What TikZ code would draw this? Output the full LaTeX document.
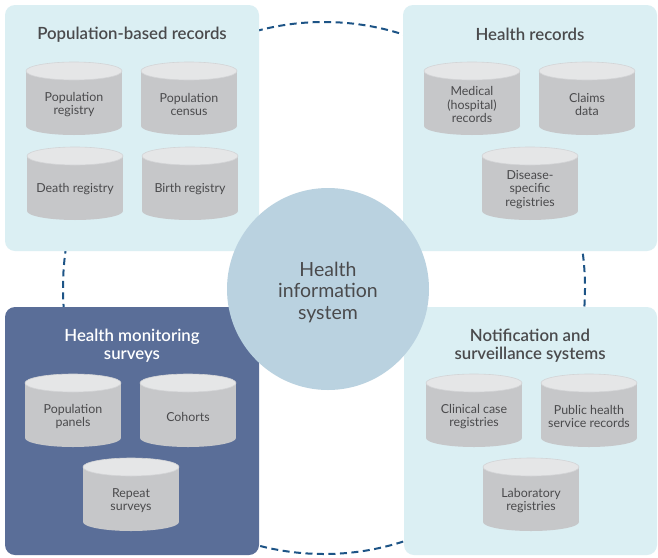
\documentclass[tikz,border=0pt]{standalone}
\usepackage{fontspec}
\setmainfont{Lato}
\newfontfamily\semib{Lato Semibold}
\definecolor{panelc}{HTML}{DBEFF3}
\definecolor{darkpanel}{HTML}{5A6E98}
\definecolor{hubc}{HTML}{BAD2E0}
\definecolor{cylb}{HTML}{C6C7C9}
\definecolor{cylt}{HTML}{E5E6E7}
\definecolor{cyledge}{HTML}{D3D4D6}
\definecolor{txt}{HTML}{4A4A4C}
\definecolor{dashc}{HTML}{1D5486}
\newcommand\dbcyl[4]{%
  \fill[cylbody] (#1,#2+9) rectangle (#1+96,#2+64);
  \fill[cylbody] (#1+48,#2+64) ellipse [x radius=48, y radius=9];
  \filldraw[cyltop] (#1+48,#2+9) ellipse [x radius=48, y radius=9];
  \node[cyltext] (#3) at (#1+48,#2+42.5) {#4};
}
\begin{document}
\begin{tikzpicture}[x=1pt,y=-1pt,
  panel/.style={fill=panelc, rounded corners=10pt, inner sep=0pt},
  dpanel/.style={fill=darkpanel, rounded corners=10pt, inner sep=0pt},
  cylbody/.style={fill=cylb},
  cyltop/.style={fill=cylt, draw=cyledge, line width=0.6pt},
  cyltext/.style={text=txt, font=\fontsize{12.4}{13.5}\selectfont, align=center, inner sep=0pt},
  ptitle/.style={text=txt, font=\semib\fontsize{16.8}{18}\selectfont, align=center, inner sep=0pt},
  wtitle/.style={text=white, font=\semib\fontsize{16.8}{18}\selectfont, align=center, inner sep=0pt},
  hub/.style={circle, fill=hubc, minimum size=202pt, inner sep=0pt},
  hubtext/.style={text=txt, font=\fontsize{19.5}{21.5}\selectfont, align=center, inner sep=0pt},
  dashline/.style={draw=dashc, line width=2pt, dash pattern=on 7pt off 4.5pt}]
\useasboundingbox (0,0) rectangle (658,557);
\fill[white] (0,0) rectangle (658,557);
% dashed ring
\draw[dashline] (324,288) ellipse [x radius=261, y radius=266];
% panels
\node[panel, minimum width=254pt, minimum height=246pt] (pbr) at (132,128) {};
\node[panel, minimum width=254pt, minimum height=246pt] (hr) at (530,128) {};
\node[dpanel, minimum width=254pt, minimum height=248pt] (hms) at (132,431) {};
\node[panel, minimum width=253pt, minimum height=248pt] (nss) at (530.5,431) {};
% titles
\node[ptitle] (t1) at (132,34.5) {Population-based records};
\node[ptitle] (t2) at (530,34.5) {Health records};
\node[wtitle] (t3) at (132,345.5) {Health monitoring\\surveys};
\node[ptitle] (t4) at (530,345.5) {Notification and\\surveillance systems};
% cylinders
\dbcyl{26}{62}{c1}{Population\\registry}
\dbcyl{141}{62}{c2}{Population\\census}
\dbcyl{27}{147}{c3}{Death registry}
\dbcyl{142}{147}{c4}{Birth registry}
\dbcyl{424}{62}{c5}{Medical\\(hospital)\\records}
\dbcyl{539}{62}{c6}{Claims\\data}
\dbcyl{482}{147}{c7}{Disease-\\specific\\registries}
\dbcyl{25}{374}{c8}{Population\\panels}
\dbcyl{140}{374}{c9}{Cohorts}
\dbcyl{83}{458}{c10}{Repeat\\surveys}
\dbcyl{426}{374}{c11}{Clinical case\\registries}
\dbcyl{541}{374}{c12}{Public health\\service records}
\dbcyl{483}{458}{c13}{Laboratory\\registries}
% hub
\node[hub] (his) at (328,289) {};
\node[hubtext] (histext) at (328,292) {Health\\information\\system};
\end{tikzpicture}
\end{document}
